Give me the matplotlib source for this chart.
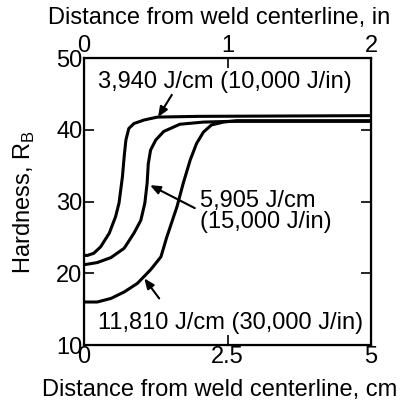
import matplotlib
matplotlib.use("Agg")
import matplotlib.pyplot as plt

plt.rcParams['font.family'] = ['Liberation Sans', 'DejaVu Sans']
plt.rcParams['mathtext.fontset'] = 'custom'
plt.rcParams['mathtext.rm'] = 'Liberation Sans'

# Curve data: distance (cm), hardness (R_B)
x1 = [0.0, 0.06, 0.17, 0.29, 0.44, 0.55, 0.61, 0.67, 0.70, 0.73, 0.78, 0.87, 1.05, 1.28, 2.0, 5.0]
y1 = [22.5, 22.5, 22.8, 23.7, 25.6, 27.9, 29.8, 33.5, 36.3, 38.6, 40.2, 40.9, 41.4, 41.8, 41.9, 42.0]

x2 = [0.0, 0.23, 0.47, 0.70, 0.87, 0.99, 1.06, 1.10, 1.12, 1.16, 1.25, 1.39, 1.67, 2.08, 2.54, 5.0]
y2 = [21.2, 21.5, 22.2, 23.5, 25.6, 27.4, 29.8, 32.6, 35.3, 37.2, 38.6, 39.8, 40.8, 41.1, 41.2, 41.2]

x3 = [0.0, 0.23, 0.47, 0.70, 0.93, 1.16, 1.34, 1.44, 1.62, 1.73, 1.85, 1.96, 2.08, 2.22, 2.43, 2.66, 5.0]
y3 = [16.0, 16.0, 16.5, 17.4, 18.6, 20.5, 22.3, 25.0, 29.3, 32.6, 35.8, 38.1, 39.7, 40.7, 41.1, 41.3, 41.3]

labels = ["3,940 J/cm (10,000 J/in)", "5,905 J/cm\n(15,000 J/in)", "11,810 J/cm (30,000 J/in)"]

cm_ticks = [0, 2.5, 5]
cm_ticklabels = ["0", "2.5", "5"]
in_ticks = [0, 1, 2]
in_ticklabels = ["0", "1", "2"]
y_ticks = [10, 20, 30, 40, 50]

FS = 17

fig = plt.figure(figsize=(4.0, 4.04), dpi=100)
ax = fig.add_axes([0.21, 0.146, 0.7175, 0.7097])

for xs, ys in [(x1, y1), (x2, y2), (x3, y3)]:
    ax.plot(xs, ys, color='black', lw=2.2, solid_capstyle='butt')

ax.set_xlim(0, 5)
ax.set_ylim(10, 50)
ax.set_xticks(cm_ticks)
ax.set_xticklabels(cm_ticklabels)
ax.set_yticks(y_ticks)
ax.tick_params(axis='both', direction='in', length=7.5, width=1.2,
               labelsize=FS, pad=1)
ax.tick_params(axis='y', right=True)
for s in ax.spines.values():
    s.set_linewidth(1.6)

ax2 = ax.twiny()
ax2.set_xlim(0, 2)
ax2.set_xticks(in_ticks)
ax2.set_xticklabels(in_ticklabels)
ax2.tick_params(axis='x', direction='in', length=7.5, width=1.2,
                labelsize=FS, pad=1)

ax.set_xlabel("Distance from weld centerline, cm", fontsize=FS, va='center')
ax.xaxis.set_label_coords(0.472, -0.157)
ax2.set_xlabel("Distance from weld centerline, in", fontsize=FS, va='center')
ax2.xaxis.set_label_coords(0.472, 1.14)
ax.set_ylabel("Hardness, R$_\\mathregular{B}$", fontsize=FS, va='center')
ax.yaxis.set_label_coords(-0.206, 0.5)

arrow = dict(arrowstyle='-|>,head_length=0.6,head_width=0.25', color='black', lw=1.5,
             shrinkA=0, shrinkB=0)
ax.annotate("", xy=(1.29, 41.8), xytext=(1.53, 44.9), arrowprops=arrow)
ax.annotate("", xy=(1.15, 32.3), xytext=(1.93, 29.1), arrowprops=arrow)
ax.annotate("", xy=(1.05, 19.3), xytext=(1.31, 16.5), arrowprops=arrow)

ax.text(2.46, 46.7, labels[0], fontsize=FS, ha='center', va='center')
ax.text(2.02, 28.6, labels[1], fontsize=FS, ha='left', va='center', linespacing=0.95)
ax.text(2.56, 13.1, labels[2], fontsize=FS, ha='center', va='center')

fig.savefig("out.png", dpi=100)
